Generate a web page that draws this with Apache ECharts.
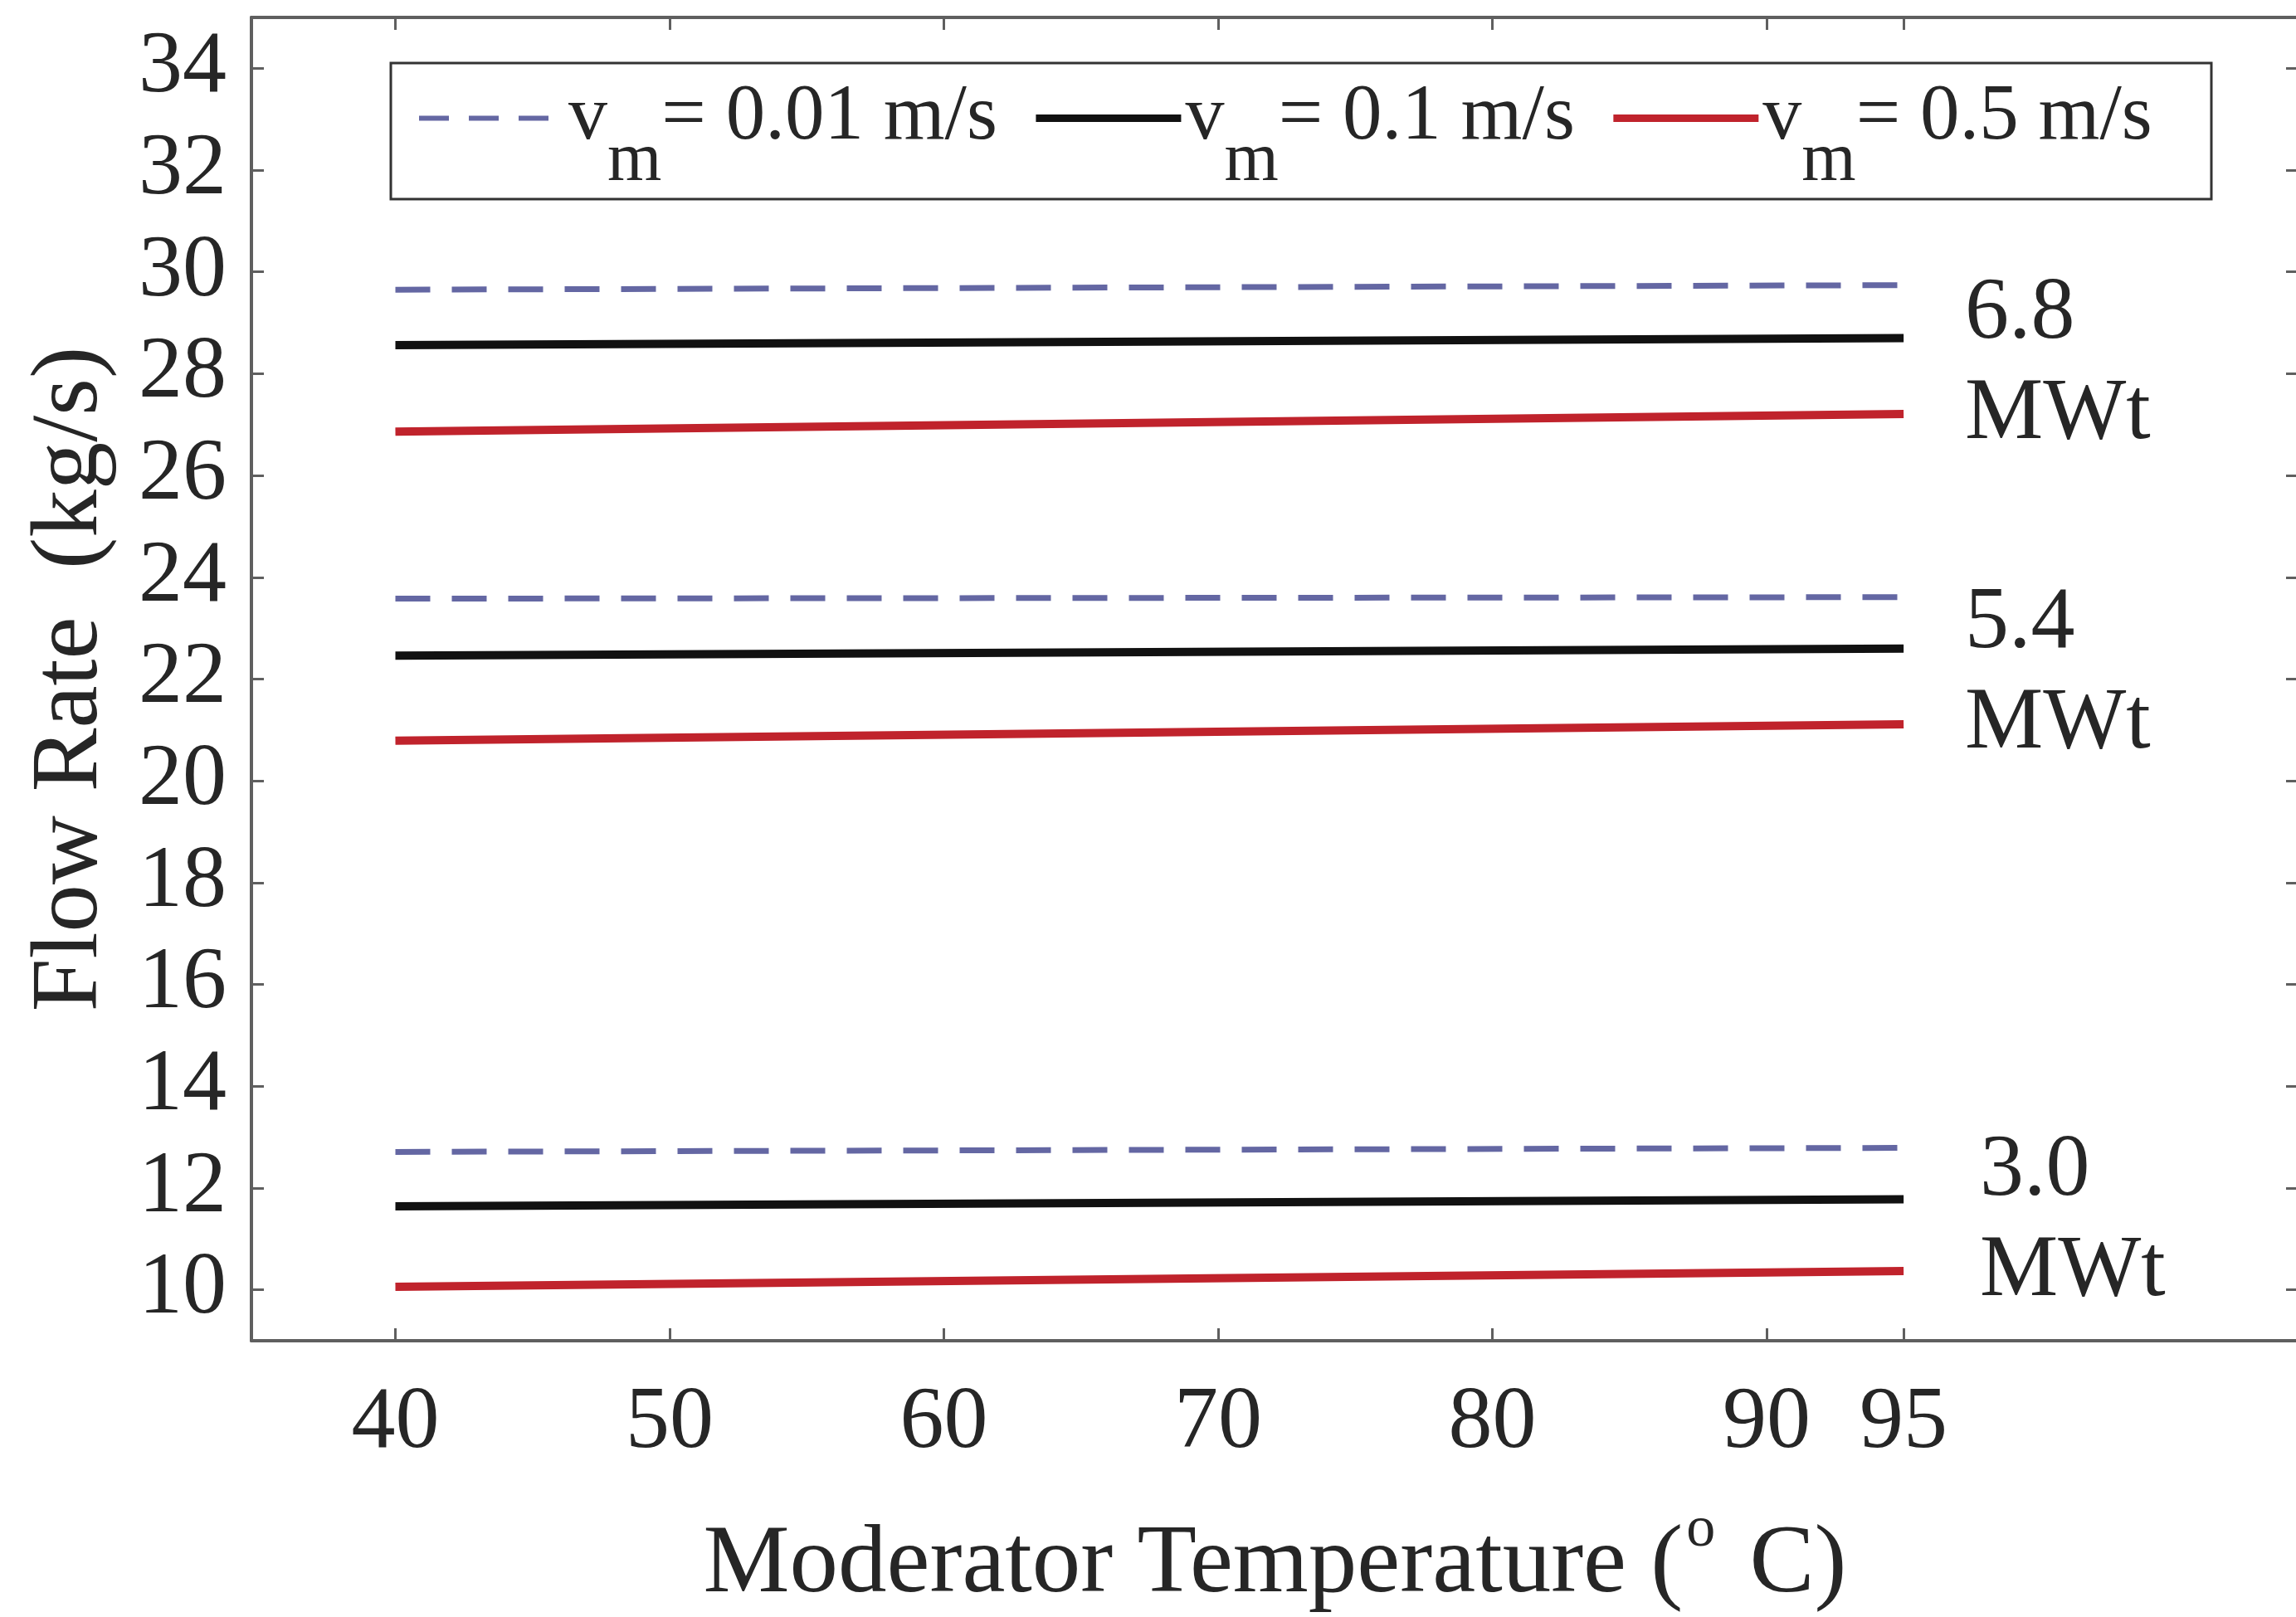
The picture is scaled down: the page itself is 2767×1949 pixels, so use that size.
<!DOCTYPE html>
<html>
<head>
<meta charset="utf-8">
<title>Flow Rate vs Moderator Temperature</title>
<script src="https://cdn.jsdelivr.net/npm/echarts@6/dist/echarts.min.js"></script>
<style>
    html, body { margin: 0; padding: 0; background: #fff; }
    #chart { width: 2767px; height: 1949px; }
</style>
</head>
<body>
<div id="chart"></div>
<script>
// 数据：温度 (°C) 与各功率下的流量 (kg/s)
const temps = [40, 95];
const xTicks = [40, 50, 60, 70, 80, 90, 95];
const yTicks = [10, 12, 14, 16, 18, 20, 22, 24, 26, 28, 30, 32, 34];
const velocityNames = ['vm0.01', 'vm0.1', 'vm0.5'];
const velocityText = ['= 0.01 m/s', '= 0.1 m/s', '= 0.5 m/s'];
const powerLabels = ['6.8', '5.4', '3.0'];

// 6.8 MWt
const flow68Slow = [29.65, 29.74];
const flow68Mid = [28.56, 28.70];
const flow68Fast = [26.86, 27.21];
// 5.4 MWt
const flow54Slow = [23.58, 23.61];
const flow54Mid = [22.46, 22.60];
const flow54Fast = [20.79, 21.11];
// 3.0 MWt
const flow30Slow = [12.71, 12.79];
const flow30Mid = [11.64, 11.78];
const flow30Fast = [10.06, 10.37];

const FONT = "'Liberation Serif', 'DejaVu Serif', serif";
const TEXT = '#262626';
const AXIS = '#5f5f5f';

const lineStyles = [
    { color: '#6467a3', width: 7, type: [42, 26] },
    { color: '#111111', width: 10, type: 'solid' },
    { color: '#c0232c', width: 10, type: 'solid' }
];
const legendLineStyles = [
    { color: '#6467a3', width: 6, type: [36, 24] },
    { color: '#111111', width: 9, type: 'solid' },
    { color: '#c0232c', width: 9, type: 'solid' }
];

function makeSeries(nameIdx, values) {
    return {
        name: velocityNames[nameIdx],
        type: 'line',
        symbol: 'none',
        silent: true,
        animation: false,
        lineStyle: lineStyles[nameIdx],
        itemStyle: { color: lineStyles[nameIdx].color },
        data: temps.map((t, i) => [t, values[i]])
    };
}

const series = [
    makeSeries(0, flow68Slow), makeSeries(1, flow68Mid), makeSeries(2, flow68Fast),
    makeSeries(0, flow54Slow), makeSeries(1, flow54Mid), makeSeries(2, flow54Fast),
    makeSeries(0, flow30Slow), makeSeries(1, flow30Mid), makeSeries(2, flow30Fast)
];

// 功率标注位置
const powerPos = [[2368, 319], [2368, 692], [2386, 1352]];

const chart = echarts.init(document.getElementById('chart'));

const option = {
    animation: false,
    backgroundColor: '#fff',
    grid: {
        left: 303, top: 21, right: -3, bottom: 333,
        containLabel: false,
        outerBoundsMode: 'none'
    },
    legend: {
        data: velocityNames.map((n, i) => ({
            name: n,
            lineStyle: legendLineStyles[i],
            itemStyle: { opacity: 0 }
        })),
        left: 497,
        top: 90,
        orient: 'horizontal',
        itemWidth: 175,
        itemHeight: 20,
        itemGap: 42,
        selectedMode: false,
        formatter: function (name) {
            const i = velocityNames.indexOf(name);
            return '{v|v}{s|m}{t|' + velocityText[i] + '}';
        },
        textStyle: {
            fontFamily: FONT,
            color: TEXT,
            rich: {
                v: { fontFamily: FONT, fontSize: 94, color: TEXT },
                s: { fontFamily: FONT, fontSize: 84, color: TEXT, padding: [104, 0, 0, 0] },
                t: { fontFamily: FONT, fontSize: 95, color: TEXT }
            }
        }
    },
    xAxis: [{
        type: 'value',
        min: 34.75,
        max: 109.4,
        position: 'bottom',
        name: '{a|Moderator Temperature (}{o|o}{a| C)}',
        nameLocation: 'middle',
        nameGap: 194,
        nameTextStyle: {
            rich: {
                a: { fontFamily: FONT, fontSize: 117, color: TEXT },
                o: { fontFamily: FONT, fontSize: 70, color: TEXT, padding: [0, 12, 84, 4] }
            }
        },
        axisLine: { show: true, lineStyle: { color: AXIS, width: 4 } },
        axisTick: { show: true, inside: true, length: 15, customValues: xTicks, lineStyle: { color: AXIS, width: 3 } },
        axisLabel: { show: true, customValues: xTicks, margin: 47, fontFamily: FONT, fontSize: 106, color: TEXT },
        splitLine: { show: false }
    }, {
        type: 'value',
        min: 34.75,
        max: 109.4,
        position: 'top',
        axisLine: { show: true, lineStyle: { color: AXIS, width: 4 } },
        axisTick: { show: true, inside: true, length: 15, customValues: xTicks, lineStyle: { color: AXIS, width: 3 } },
        axisLabel: { show: false },
        splitLine: { show: false }
    }],
    yAxis: [{
        type: 'value',
        min: 9,
        max: 35,
        position: 'left',
        name: 'Flow Rate  (kg/s)',
        nameLocation: 'middle',
        nameGap: 160,
        nameTextStyle: { fontFamily: FONT, fontSize: 115, color: TEXT },
        axisLine: { show: true, lineStyle: { color: AXIS, width: 4 } },
        axisTick: { show: true, inside: true, length: 15, customValues: yTicks, lineStyle: { color: AXIS, width: 3 } },
        axisLabel: { show: true, customValues: yTicks, margin: 30, fontFamily: FONT, fontSize: 106, color: TEXT },
        splitLine: { show: false }
    }, {
        type: 'value',
        min: 9,
        max: 35,
        position: 'right',
        axisLine: { show: true, lineStyle: { color: AXIS, width: 4 } },
        axisTick: { show: true, inside: true, length: 15, customValues: yTicks, lineStyle: { color: AXIS, width: 3 } },
        axisLabel: { show: false },
        splitLine: { show: false }
    }],
    graphic: [
        {
            type: 'rect',
            silent: true,
            shape: { x: 471, y: 76, width: 2194, height: 164 },
            style: { fill: null, stroke: '#333', lineWidth: 3 }
        }
    ].concat(powerLabels.map((p, i) => ({
        type: 'text',
        silent: true,
        left: powerPos[i][0],
        top: powerPos[i][1],
        style: {
            text: p + '\nMWt',
            font: '106px ' + FONT,
            fill: TEXT,
            lineHeight: 121
        }
    }))),
    series: series
};

chart.setOption(option);

window.addEventListener('resize', function () {
    chart.resize();
});
</script>
</body>
</html>
